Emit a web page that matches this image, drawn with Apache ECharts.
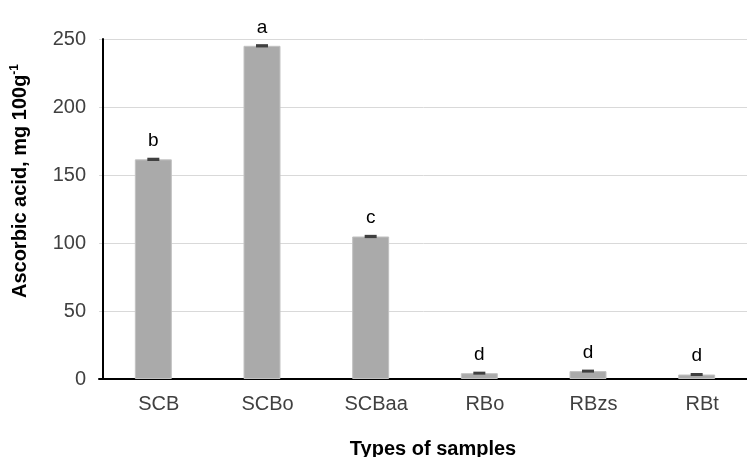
<!DOCTYPE html>
<html>
<head>
<meta charset="utf-8">
<script src="https://cdn.jsdelivr.net/npm/echarts@6/dist/echarts.min.js"></script>
<style>
  html, body { margin: 0; padding: 0; background: #fff; }
  #chart { width: 747px; height: 457px; }
</style>
</head>
<body>
<div id="chart"></div>
<script>
// values
const samples = ['SCB', 'SCBo', 'SCBaa', 'RBo', 'RBzs', 'RBt'];
const ascorbic = [161.5, 245, 104.8, 4.3, 5.8, 3.3];
const errors = [1.2, 1.2, 1.2, 1.0, 1.0, 1.0];
const letters = ['b', 'a', 'c', 'd', 'd', 'd'];

const chart = echarts.init(document.getElementById('chart'));
const font = 'Liberation Sans, Arial, sans-serif';

chart.setOption({
    animation: false,
    grid: { left: 99, right: -4, top: 39, bottom: 78, outerBoundsMode: 'none' },
    xAxis: {
        type: 'category',
        data: samples,
        axisLine: { lineStyle: { color: '#000', width: 2 } },
        axisTick: { show: false },
        axisLabel: { color: '#404040', fontSize: 20, fontFamily: font, margin: 15, padding: [0, 0, 0, 11] },
        name: 'Types of samples',
        nameLocation: 'middle',
        nameGap: 60,
        nameTextStyle: { color: '#000', fontSize: 20, fontWeight: 'bold', fontFamily: font, padding: [0, 0, 0, 16] }
    },
    yAxis: {
        type: 'value',
        min: 0, max: 250, interval: 50,
        offset: -4,
        axisLine: { show: true, lineStyle: { color: '#000', width: 2 } },
        axisTick: { show: false },
        axisLabel: { color: '#404040', fontSize: 20, fontFamily: font, margin: 17 },
        splitLine: { lineStyle: { color: '#d9d9d9', width: 1 } },
        name: 'Ascorbic acid, mg 100g{sup|-1}',
        nameLocation: 'middle',
        nameGap: 72,
        nameRotate: 90,
        nameTextStyle: {
            color: '#000', fontSize: 20, fontWeight: 'bold', fontFamily: font,
            padding: [0, 0, 0, 56],
            rich: {
                sup: { fontSize: 12, fontWeight: 'bold', fontFamily: font, color: '#000', verticalAlign: 'top', padding: [0, 0, 10, 0] }
            }
        }
    },
    series: [
        {
            type: 'bar',
            data: ascorbic.map((v, i) => ({
                value: v,
                label: { formatter: letters[i] }
            })),
            barWidth: 37,
            itemStyle: { color: '#aaaaaa', borderColor: '#c2c2c2', borderWidth: 1 },
            label: {
                show: true, position: 'top', distance: 9,
                color: '#000', fontSize: 19, fontFamily: font
            },
            z: 2
        },
        {
            type: 'custom',
            data: ascorbic.map((v, i) => [i, v - errors[i], v + errors[i]]),
            renderItem: (params, api) => {
                const lo = api.coord([api.value(0), api.value(1)]);
                const hi = api.coord([api.value(0), api.value(2)]);
                const h = Math.max(lo[1] - hi[1], 3);
                return {
                    type: 'rect',
                    shape: { x: lo[0] - 6, y: hi[1] - (h - (lo[1] - hi[1])) / 2, width: 12, height: h },
                    style: { fill: '#404040' }
                };
            },
            z: 3
        }
    ]
});
</script>
</body>
</html>
